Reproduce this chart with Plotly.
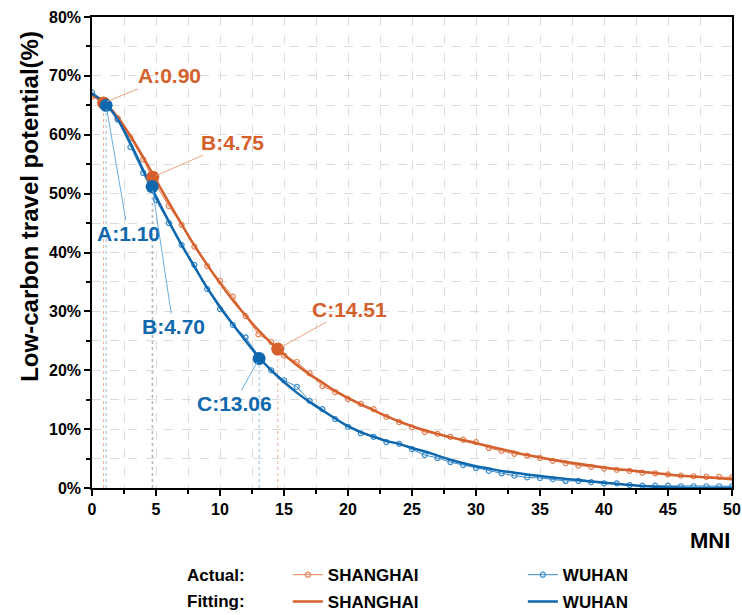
import plotly.graph_objects as go

# ---------------- data ----------------
mni = list(range(0, 51))

sh_actual = [66.5, 65.3, 62.8, 59.5, 55.8, 51.5, 47.9, 44.7, 41.0, 37.7,
             35.2, 32.5, 29.2, 26.1, 24.8, 22.5, 21.4, 19.5, 17.3, 16.3,
             15.1, 14.3, 13.4, 12.1, 11.2, 10.3, 9.5, 9.2, 8.7, 8.2,
             7.8, 6.8, 6.3, 5.8, 5.5, 5.1, 4.6, 4.2, 3.8, 3.6,
             3.3, 3.1, 2.9, 2.6, 2.5, 2.3, 2.1, 2.0, 1.9, 1.9, 1.8]

wh_actual = [67.2, 65.5, 62.6, 57.9, 53.5, 48.9, 45.0, 41.3, 37.9, 33.8,
             30.4, 27.7, 25.6, 22.5, 20.0, 18.3, 17.2, 14.8, 13.4, 11.7,
             10.4, 9.3, 8.7, 7.8, 7.5, 6.6, 5.6, 5.1, 4.4, 3.9,
             3.4, 2.9, 2.5, 2.1, 1.8, 1.7, 1.5, 1.2, 1.2, 1.0,
             0.8, 0.8, 0.5, 0.4, 0.4, 0.4, 0.3, 0.3, 0.3, 0.3, 0.3]

sh_fit = [66.8, 65.4, 63.0, 59.8, 56.2, 52.3, 48.5, 44.8, 41.2, 37.9,
          34.8, 31.9, 29.3, 26.8, 24.6, 22.7, 20.9, 19.3, 17.9, 16.5,
          15.3, 14.2, 13.2, 12.2, 11.3, 10.5, 9.8, 9.2, 8.6, 8.1,
          7.6, 7.1, 6.6, 6.1, 5.6, 5.2, 4.8, 4.45, 4.1, 3.8,
          3.5, 3.2, 3.0, 2.75, 2.5, 2.3, 2.1, 1.95, 1.8, 1.65, 1.5]

wh_fit = [67.0, 65.4, 62.6, 58.6, 54.0, 49.5, 45.3, 41.3, 37.6, 34.0,
          30.8, 27.8, 25.0, 22.3, 20.0, 18.0, 16.2, 14.6, 13.2, 11.8,
          10.5, 9.5, 8.7, 8.0, 7.5, 6.8, 6.2, 5.5, 4.8, 4.2,
          3.7, 3.3, 2.9, 2.6, 2.3, 2.05, 1.8, 1.55, 1.35, 1.1,
          0.9, 0.7, 0.5, 0.35, 0.2, 0.1, 0.05, 0.0, 0.0, 0.0, 0.0]

key_labels = ["A", "B", "C"]
sh_key_x = [0.90, 4.75, 14.51]
sh_key_y = [65.4, 52.8, 23.6]
wh_key_x = [1.10, 4.70, 13.06]
wh_key_y = [65.0, 51.2, 22.0]

y_ticks = [0, 10, 20, 30, 40, 50, 60, 70, 80]
y_tick_labels = ["0%", "10%", "20%", "30%", "40%", "50%", "60%", "70%", "80%"]
x_ticks = [0, 5, 10, 15, 20, 25, 30, 35, 40, 45, 50]
x_tick_labels = ["0", "5", "10", "15", "20", "25", "30", "35", "40", "45", "50"]

# ---------------- style ----------------
SH = "#D5602C"
SH_L = "#E4835A"
SH_LEAD = "#EDA283"
WH = "#0F67AE"
WH_L = "#3A8CCB"
WH_LEAD = "#6BAEE0"
FONT = "Liberation Sans"

fig = go.Figure()

# vertical dotted drop lines from key points
for xs, ys, c in [(sh_key_x, sh_key_y, SH_LEAD), (wh_key_x, wh_key_y, WH_LEAD)]:
    for xk, yk in zip(xs, ys):
        fig.add_trace(go.Scatter(x=[xk, xk], y=[0, yk], mode="lines",
                                 line=dict(color=c, width=0.8, dash="dot"),
                                 showlegend=False, hoverinfo="skip"))

# actual series
fig.add_trace(go.Scatter(x=mni, y=sh_actual, mode="lines+markers", name="<b>SHANGHAI</b>",
                         line=dict(color=SH_L, width=1),
                         marker=dict(symbol="circle-open", size=5, color=SH_L, line=dict(width=1.2)),
                         legend="legend"))
fig.add_trace(go.Scatter(x=mni, y=wh_actual, mode="lines+markers", name="<b>WUHAN</b>",
                         line=dict(color=WH_L, width=1),
                         marker=dict(symbol="circle-open", size=5, color=WH_L, line=dict(width=1.2)),
                         legend="legend"))

# fitted series
fig.add_trace(go.Scatter(x=mni, y=sh_fit, mode="lines", name="<b>SHANGHAI</b>",
                         line=dict(color=SH, width=2.5, shape="spline"),
                         legend="legend2"))
fig.add_trace(go.Scatter(x=mni, y=wh_fit, mode="lines", name="<b>WUHAN</b>",
                         line=dict(color=WH, width=2.5, shape="spline"),
                         legend="legend2"))

# key points
fig.add_trace(go.Scatter(x=sh_key_x, y=sh_key_y, mode="markers",
                         marker=dict(color=SH, size=13), showlegend=False))
fig.add_trace(go.Scatter(x=wh_key_x, y=wh_key_y, mode="markers",
                         marker=dict(color=WH, size=13), showlegend=False))

# annotations for key points (offsets in px)
sh_off = [(66, -27), (80, -35), (72, -40)]
wh_off = [(22, 128), (21, 140), (-25, 45)]
for lab, xk, yk, (ax, ay) in zip(key_labels, sh_key_x, sh_key_y, sh_off):
    fig.add_annotation(x=xk, y=yk, text=f"<b>{lab}:{xk:.2f}</b>", showarrow=True,
                       arrowhead=0, arrowwidth=1, arrowcolor=SH_LEAD, ax=ax, ay=ay,
                       standoff=4, font=dict(family=FONT, size=21, color=SH))
for lab, xk, yk, (ax, ay) in zip(key_labels, wh_key_x, wh_key_y, wh_off):
    fig.add_annotation(x=xk, y=yk, text=f"<b>{lab}:{xk:.2f}</b>", showarrow=True,
                       arrowhead=0, arrowwidth=1, arrowcolor=WH_LEAD, ax=ax, ay=ay,
                       standoff=4, font=dict(family=FONT, size=21, color=WH))

# axis titles and legend labels
fig.add_annotation(xref="paper", yref="paper", x=1.0, y=-0.112, xanchor="right", yanchor="middle",
                   text="<b>MNI</b>", showarrow=False, font=dict(family=FONT, size=22, color="black"))
fig.add_annotation(xref="paper", yref="paper", x=-0.097, y=0.599, xanchor="center", yanchor="middle",
                   textangle=-90, text="<b>Low-carbon travel potential(%)</b>", showarrow=False,
                   font=dict(family=FONT, size=24, color="black"))
fig.add_annotation(xref="paper", yref="paper", x=0.242, y=-0.185, xanchor="right", yanchor="middle",
                   text="<b>Actual:</b>", showarrow=False, font=dict(family=FONT, size=17, color="black"))
fig.add_annotation(xref="paper", yref="paper", x=0.242, y=-0.242, xanchor="right", yanchor="middle",
                   text="<b>Fitting:</b>", showarrow=False, font=dict(family=FONT, size=17, color="black"))

axis_common = dict(showline=True, linecolor="black", linewidth=1.5, mirror=True,
                   ticks="outside", ticklen=6, tickwidth=1.5, tickcolor="black",
                   showgrid=True, gridcolor="#DCDCDC", griddash="dash", gridwidth=1,
                   zeroline=False, automargin=False,
                   tickfont=dict(family=FONT, size=16, color="black"))

fig.update_xaxes(range=[0, 50], tickvals=x_ticks,
                 ticktext=[f"<b>{t}</b>" for t in x_tick_labels],
                 minor=dict(dtick=2.5, ticks="outside", ticklen=4, tickcolor="black",
                            showgrid=True, gridcolor="#DCDCDC", griddash="dash"),
                 **axis_common)
fig.update_yaxes(range=[0, 80], tickvals=y_ticks,
                 ticktext=[f"<b>{t}</b>" for t in y_tick_labels],
                 minor=dict(dtick=5, ticks="outside", ticklen=4, tickcolor="black",
                            showgrid=True, gridcolor="#DCDCDC", griddash="dash"),
                 **axis_common)

leg_common = dict(orientation="h", xanchor="left", yanchor="middle", x=0.306,
                  entrywidth=190, entrywidthmode="pixels",
                  font=dict(family=FONT, size=17, color="black"),
                  bgcolor="rgba(0,0,0,0)", borderwidth=0, itemclick=False)

fig.update_layout(
    width=742, height=615,
    margin=dict(l=92, r=10, t=17, b=127, autoexpand=False),
    plot_bgcolor="white", paper_bgcolor="white",
    legend=dict(y=-0.185, **leg_common),
    legend2=dict(y=-0.242, **leg_common),
    font=dict(family=FONT),
)

fig.write_html("out.html", config={"displayModeBar": False},
               post_script="document.body.style.margin='0';document.body.style.overflow='hidden';")
